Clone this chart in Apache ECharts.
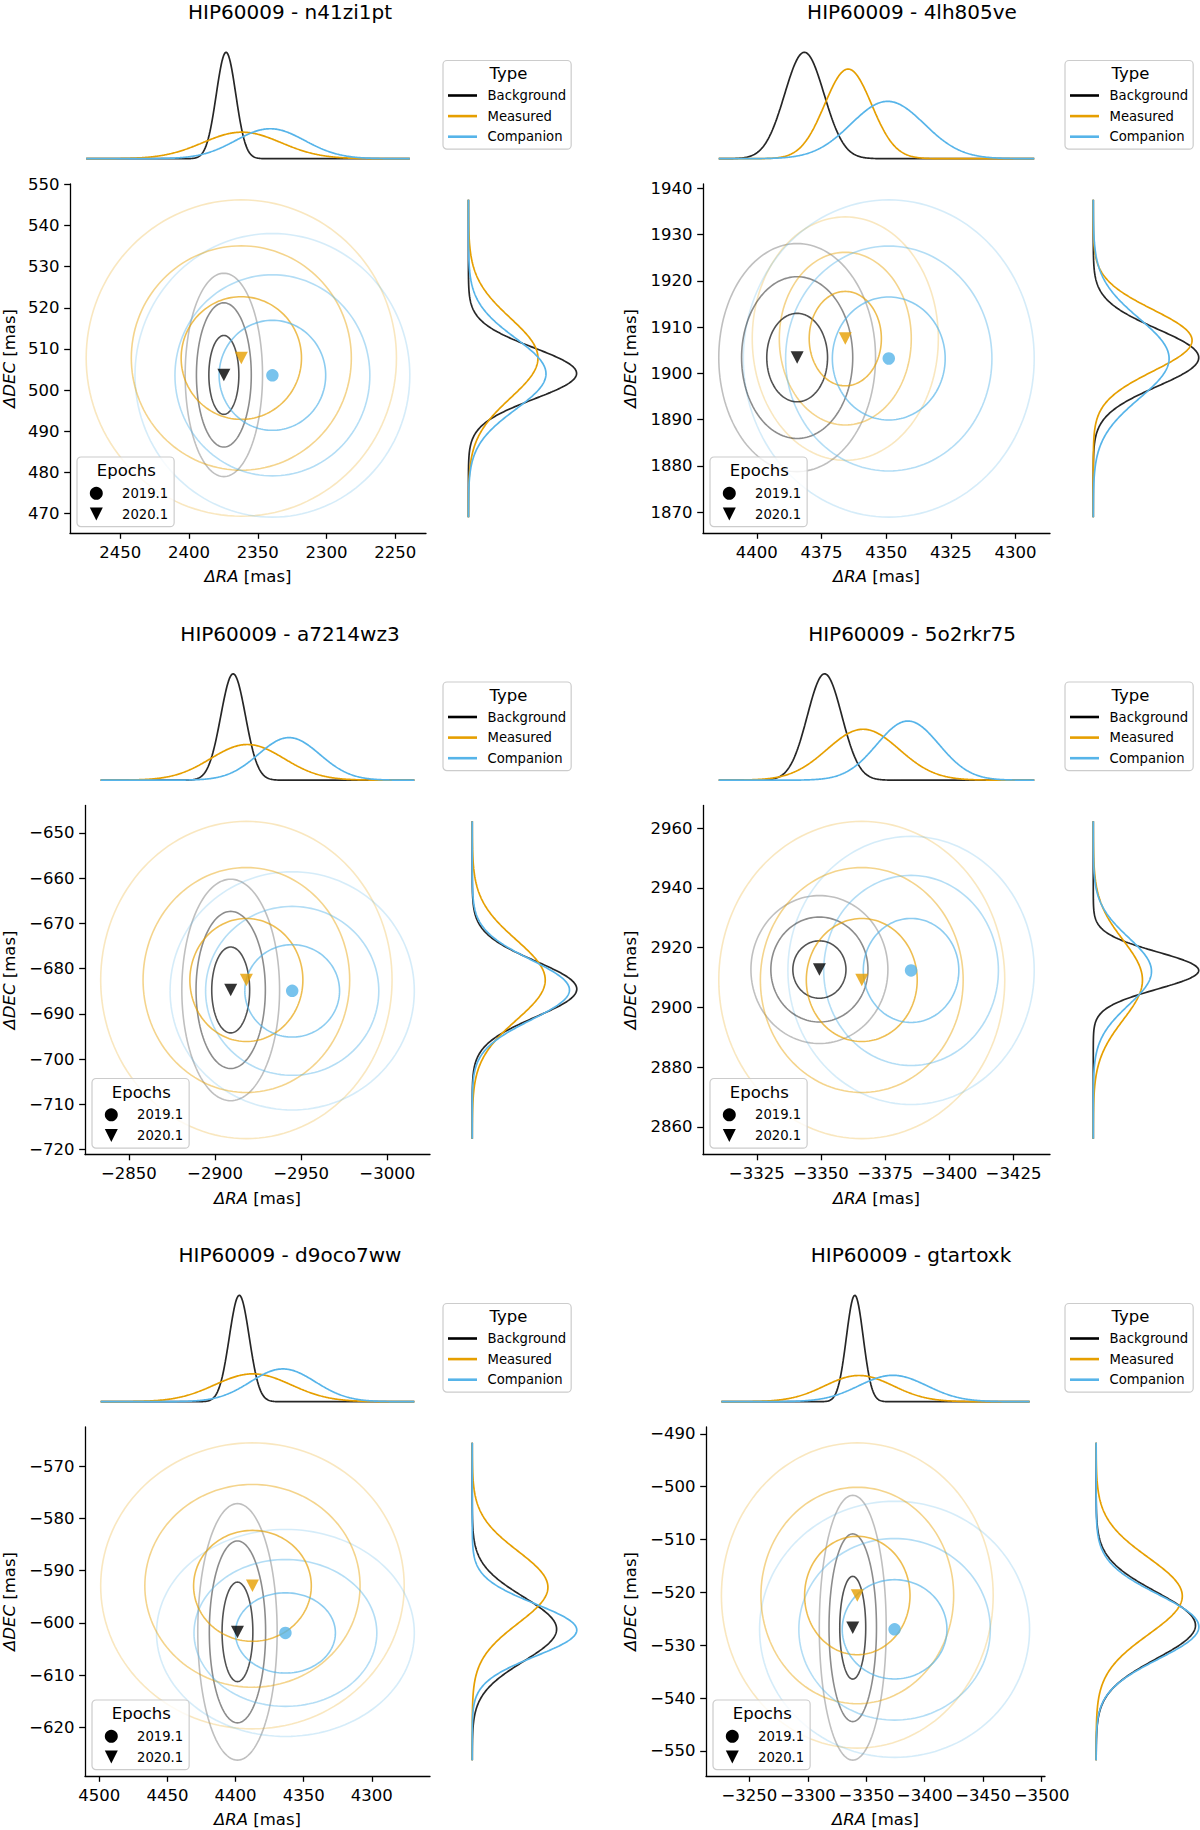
<!DOCTYPE html>
<html>
<head>
<meta charset="utf-8">
<script src="https://cdn.jsdelivr.net/npm/echarts@6/dist/echarts.min.js"></script>
<style>
html,body{margin:0;padding:0;background:#ffffff;}
#c{width:1200px;height:1830px;}
</style>
</head>
<body>
<div id="c"></div>
<script>
// ---------------- data ----------------
const panelNames = ['HIP60009 - n41zi1pt', 'HIP60009 - 4lh805ve', 'HIP60009 - a7214wz3',
                    'HIP60009 - 5o2rkr75', 'HIP60009 - d9oco7ww', 'HIP60009 - gtartoxk'];
const typeNames = ['Background', 'Measured', 'Companion'];
const epochNames = ['2019.1', '2020.1'];

// Background (epoch 2020.1)
const bgRA     = [2374.7, 4384.4, -2909.1, -3349.4, 4398.6, -3338.4];
const bgDEC    = [503.7, 1903.4, -684.7, 2912.7, -601.7, -526.7];
const bgSigRA  = [7.79, 8.39, 7.86, 7.39, 8.07, 7.93];
const bgSigDEC = [6.84, 6.83, 6.78, 6.86, 6.79, 6.94];
// Measured (epoch 2020.1)
const msRA     = [2362.0, 4365.8, -2918.2, -3365.9, 4387.6, -3342.3];
const msDEC    = [507.8, 1907.5, -682.5, 2909.2, -592.9, -520.6];
const msSigRA  = [31.25, 9.96, 23.43, 15.43, 30.86, 32.21];
const msSigDEC = [10.64, 7.29, 9.71, 14.71, 7.57, 8.0];
// Companion (epoch 2019.1)
const cpRA     = [2339.4, 4349.0, -2944.8, -3385.1, 4363.4, -3374.2];
const cpDEC    = [503.6, 1903.2, -684.9, 2912.4, -601.9, -527.0];
const cpSigRA  = [27.68, 15.57, 19.64, 13.29, 26.21, 32.0];
const cpSigDEC = [9.54, 9.5, 7.29, 12.43, 5.48, 6.71];

// tick labels
const raTicks = [
  [2450, 2400, 2350, 2300, 2250],
  [4400, 4375, 4350, 4325, 4300],
  [-2850, -2900, -2950, -3000],
  [-3325, -3350, -3375, -3400, -3425],
  [4500, 4450, 4400, 4350, 4300],
  [-3250, -3300, -3350, -3400, -3450, -3500]
];
const decTicks = [
  [470, 480, 490, 500, 510, 520, 530, 540, 550],
  [1870, 1880, 1890, 1900, 1910, 1920, 1930, 1940],
  [-720, -710, -700, -690, -680, -670, -660, -650],
  [2860, 2880, 2900, 2920, 2940, 2960],
  [-620, -610, -600, -590, -580, -570],
  [-550, -540, -530, -520, -510, -500, -490]
];
// contour levels (in sigma units)
const levelScales = [1.4, 2.56, 3.61];

// ---------------- style / layout ----------------
const FONT = 'DejaVu Sans';
const typeColors = ['#000000', '#E69F00', '#56B4E9'];
const levelAlpha = [0.68, 0.45, 0.25];
const rowTop = [0, 621.5, 1243];
const gridLeft  = [70, 703, 85, 703, 85, 706];
const gridRight = [426, 1050, 430, 1050, 430, 1045];
const margLeft  = [463, 1088, 467, 1088, 467, 1091];
const margWidth = [119, 116, 115, 116, 115, 113];
const titleX    = [290, 912, 290, 912, 290, 911];
const typeLegLeft = [443, 1065, 443, 1065, 443, 1065];
const yNameGap  = [52, 64, 67, 64, 67, 67];

const fmt = v => (v < 0 ? '\u2212' + Math.abs(v) : String(v));
function pdf(x, mu, s) { return Math.exp(-0.5 * ((x - mu) / s) ** 2) / (s * Math.sqrt(2 * Math.PI)); }

const grid = [], xAxis = [], yAxis = [], series = [], legend = [], graphic = [];
const NS = 400;
const TRI = 'path://M0,0L10,0L5,10Z';

for (let p = 0; p < 6; p++) {
  const row = rowTop[Math.floor(p / 2)];
  const objs = [
    [bgRA[p], bgDEC[p], bgSigRA[p], bgSigDEC[p]],
    [msRA[p], msDEC[p], msSigRA[p], msSigDEC[p]],
    [cpRA[p], cpDEC[p], cpSigRA[p], cpSigDEC[p]]
  ];
  const kMax = levelScales[levelScales.length - 1];
  let xlo = Infinity, xhi = -Infinity, ylo = Infinity, yhi = -Infinity;
  objs.forEach(o => {
    xlo = Math.min(xlo, o[0] - kMax * o[2]); xhi = Math.max(xhi, o[0] + kMax * o[2]);
    ylo = Math.min(ylo, o[1] - kMax * o[3]); yhi = Math.max(yhi, o[1] + kMax * o[3]);
  });
  const mx = 0.05 * (xhi - xlo), my = 0.05 * (yhi - ylo);
  xlo -= mx; xhi += mx; ylo -= my; yhi += my;
  const rx = xhi - xlo, ry = yhi - ylo;

  // marginal curves
  const topCurves = objs.map(o => {
    const d = [];
    for (let i = 0; i <= NS; i++) { const x = xlo + rx * i / NS; d.push([x, pdf(x, o[0], o[2])]); }
    return d;
  });
  const rightCurves = objs.map(o => {
    const d = [];
    for (let i = 0; i <= NS; i++) { const y = ylo + ry * i / NS; d.push([pdf(y, o[1], o[3]), y]); }
    return d;
  });
  const topMax = Math.max(...topCurves.map(c => Math.max(...c.map(v => v[1]))));
  const rightMax = Math.max(...rightCurves.map(c => Math.max(...c.map(v => v[0]))));

  const gi = grid.length;
  const w = gridRight[p] - gridLeft[p];
  grid.push({ left: gridLeft[p], top: row + 184, width: w, height: 349, containLabel: false, outerBoundsMode: 'none' });
  grid.push({ left: gridLeft[p], top: row + 47, width: w, height: 117, containLabel: false, outerBoundsMode: 'none' });
  grid.push({ left: margLeft[p], top: row + 184, width: margWidth[p], height: 349, containLabel: false, outerBoundsMode: 'none' });

  const lblStyle = { fontSize: 16.5, color: '#000', fontFamily: FONT };
  const nameStyle = { fontSize: 16.5, color: '#000', fontFamily: FONT,
    rich: { it: { fontStyle: 'italic', fontSize: 16.5, color: '#000', fontFamily: FONT } } };

  xAxis.push({
    type: 'value', gridIndex: gi, inverse: true, min: xlo, max: xhi,
    axisLine: { show: true, onZero: false, lineStyle: { color: '#000', width: 1.3 } },
    axisTick: { show: true, inside: false, length: 5.8, lineStyle: { color: '#000', width: 1.3 }, customValues: raTicks[p] },
    axisLabel: Object.assign({ show: true, margin: 10.5, formatter: fmt, customValues: raTicks[p] }, lblStyle),
    splitLine: { show: false },
    name: '{it|\u0394RA} [mas]', nameLocation: 'middle', nameGap: 35, nameTextStyle: nameStyle
  });
  xAxis.push({ type: 'value', gridIndex: gi + 1, inverse: true, min: xlo - 0.05 * rx, max: xhi + 0.05 * rx, show: false });
  xAxis.push({ type: 'value', gridIndex: gi + 2, min: -0.05 * rightMax, max: 1.05 * rightMax, show: false });

  yAxis.push({
    type: 'value', gridIndex: gi, min: ylo, max: yhi,
    axisLine: { show: true, onZero: false, lineStyle: { color: '#000', width: 1.3 } },
    axisTick: { show: true, inside: false, length: 5.8, lineStyle: { color: '#000', width: 1.3 }, customValues: decTicks[p] },
    axisLabel: Object.assign({ show: true, margin: 10.5, formatter: fmt, customValues: decTicks[p] }, lblStyle),
    splitLine: { show: false },
    name: '{it|\u0394DEC} [mas]', nameLocation: 'middle', nameGap: yNameGap[p], nameTextStyle: nameStyle
  });
  yAxis.push({ type: 'value', gridIndex: gi + 1, min: -0.05 * topMax, max: 1.05 * topMax, show: false });
  yAxis.push({ type: 'value', gridIndex: gi + 2, min: ylo - 0.05 * ry, max: yhi + 0.05 * ry, show: false });

  // ellipses (contours), outer first
  const ellData = [];
  for (let l = levelScales.length - 1; l >= 0; l--) {
    objs.forEach((o, t) => ellData.push([o[0], o[1], o[2] * levelScales[l], o[3] * levelScales[l], t, l]));
  }
  series.push({
    type: 'custom', name: 'contours', xAxisIndex: gi, yAxisIndex: gi, silent: true, z: 2,
    data: ellData,
    renderItem: function (params, api) {
      const cx = api.value(0), cy = api.value(1), a = api.value(2), b = api.value(3);
      const t = api.value(4), l = api.value(5);
      const pts = [];
      for (let i = 0; i <= 144; i++) {
        const th = 2 * Math.PI * i / 144;
        pts.push(api.coord([cx + a * Math.cos(th), cy + b * Math.sin(th)]));
      }
      return { type: 'polyline', shape: { points: pts },
        style: { stroke: typeColors[t], lineWidth: 1.6, fill: null, opacity: levelAlpha[l] } };
    }
  });
  // markers
  series.push({
    type: 'scatter', name: epochNames[1], xAxisIndex: gi, yAxisIndex: gi, z: 5, silent: true,
    symbol: TRI, symbolSize: [13, 12.5],
    data: [
      { value: [bgRA[p], bgDEC[p]], itemStyle: { color: typeColors[0] } },
      { value: [msRA[p], msDEC[p]], itemStyle: { color: typeColors[1] } }
    ]
  });
  series.push({
    type: 'scatter', name: epochNames[0], xAxisIndex: gi, yAxisIndex: gi, z: 5, silent: true,
    symbol: 'circle', symbolSize: 12.5,
    itemStyle: { color: typeColors[2] },
    data: [[cpRA[p], cpDEC[p]]]
  });
  // marginal distributions
  objs.forEach((o, t) => {
    series.push({
      type: 'line', name: typeNames[t], xAxisIndex: gi + 1, yAxisIndex: gi + 1, silent: true,
      showSymbol: false, symbol: 'none', data: topCurves[t], z: 3,
      lineStyle: { color: typeColors[t], width: 1.7, opacity: t === 0 ? 0.85 : 1 }, itemStyle: { color: typeColors[t] }
    });
  });
  objs.forEach((o, t) => {
    series.push({
      type: 'line', name: typeNames[t], xAxisIndex: gi + 2, yAxisIndex: gi + 2, silent: true,
      showSymbol: false, symbol: 'none', data: rightCurves[t], z: 3,
      lineStyle: { color: typeColors[t], width: 1.7, opacity: t === 0 ? 0.85 : 1 }, itemStyle: { color: typeColors[t] }
    });
  });

  // legends
  legend.push({
    orient: 'vertical', left: typeLegLeft[p], top: row + 60.5, padding: [27, 5, 4.5, 5],
    itemWidth: 29, itemHeight: 2.6, itemGap: 4.6, icon: 'rect', selectedMode: false,
    backgroundColor: 'rgba(255,255,255,0.8)', borderColor: '#cccccc', borderWidth: 1.2, borderRadius: 4,
    formatter: n => '{t|' + n + '}',
    textStyle: { fontSize: 13.2, fontFamily: FONT, color: '#000', lineHeight: 16,
      rich: { t: { fontSize: 13.2, fontFamily: FONT, color: '#000', lineHeight: 16, padding: [0, 0, 0, 5.5] } } },
    itemStyle: { borderWidth: 0 },
    data: typeNames.map((n, t) => ({ name: n, icon: 'rect', itemStyle: { color: typeColors[t], opacity: 1, borderWidth: 0 } })),
    z: 6
  });
  legend.push({
    orient: 'vertical', left: gridLeft[p] + 7, top: row + 457, padding: [28.3, 6, 4.7, 12.8],
    itemWidth: 13, itemHeight: 13, itemGap: 4.7, selectedMode: false,
    backgroundColor: 'rgba(255,255,255,0.8)', borderColor: '#cccccc', borderWidth: 1.2, borderRadius: 4,
    formatter: n => '{t|' + n + '}',
    textStyle: { fontSize: 13.2, fontFamily: FONT, color: '#000', lineHeight: 16,
      rich: { t: { fontSize: 13.2, fontFamily: FONT, color: '#000', lineHeight: 16, padding: [0, 0, 0, 14.2] } } },
    data: [
      { name: epochNames[0], icon: 'circle', itemStyle: { color: '#000', opacity: 1, borderWidth: 0 } },
      { name: epochNames[1], icon: TRI, itemStyle: { color: '#000', opacity: 1, borderWidth: 0 } }
    ],
    z: 6
  });

  // titles
  graphic.push({ type: 'text', x: titleX[p], y: row + 12, z: 20,
    style: { text: panelNames[p], fill: '#000', fontSize: 20, fontFamily: FONT,
      align: 'center', verticalAlign: 'middle', textAlign: 'center', textVerticalAlign: 'middle' } });
  graphic.push({ type: 'text', x: typeLegLeft[p] + 65.5, y: row + 73.5, z: 20,
    style: { text: 'Type', fill: '#000', fontSize: 16.5, fontFamily: FONT,
      align: 'center', verticalAlign: 'middle', textAlign: 'center', textVerticalAlign: 'middle' } });
  graphic.push({ type: 'text', x: gridLeft[p] + 7 + 49.3, y: row + 470.7, z: 20,
    style: { text: 'Epochs', fill: '#000', fontSize: 16.5, fontFamily: FONT,
      align: 'center', verticalAlign: 'middle', textAlign: 'center', textVerticalAlign: 'middle' } });
}

const chart = echarts.init(document.getElementById('c'), null, { renderer: 'svg', width: 1200, height: 1830 });
chart.setOption({
  backgroundColor: '#ffffff',
  animation: false,
  textStyle: { fontFamily: FONT },
  grid, xAxis, yAxis, series, legend, graphic
});
</script>
</body>
</html>
